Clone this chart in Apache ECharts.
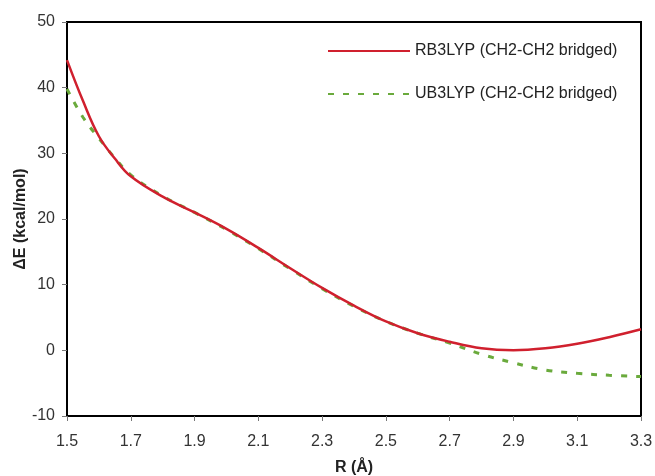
<!DOCTYPE html>
<html><head><meta charset="utf-8">
<script src="https://cdn.jsdelivr.net/npm/echarts@6/dist/echarts.min.js"></script>
<style>html,body{margin:0;padding:0;background:#fff}#c{width:655px;height:476px}</style>
</head><body><div id="c"></div>
<script>
const R = [1.5,1.55,1.6,1.65,1.7,1.8,1.9,2.0,2.1,2.2,2.3,2.4,2.5,2.6,2.7,2.8,2.9,3.0,3.1,3.2,3.3];
const rb3lyp = [44.2,38.0,32.6,29.2,26.5,23.4,21.0,18.5,15.6,12.5,9.5,6.8,4.4,2.6,1.3,0.3,0.0,0.3,1.0,2.0,3.2];
const ub3lyp = [39.8,35.5,32.3,29.3,26.7,23.5,21.0,18.4,15.5,12.4,9.4,6.7,4.4,2.6,1.1,-0.6,-1.9,-3.0,-3.5,-3.8,-4.0];
const seriesNames = ['RB3LYP (CH2-CH2 bridged)','UB3LYP (CH2-CH2 bridged)'];
const xTicks = {min:1.5, max:3.3, interval:0.2};
const yTicks = {min:-10, max:50, interval:10};

const chart = echarts.init(document.getElementById('c'), null, {renderer:'canvas'});
const font = 'Liberation Sans, Arial, sans-serif';
chart.setOption({
  animation:false,
  backgroundColor:'#fff',
  grid:{left:67,right:14,top:22,bottom:60,show:true,borderColor:'#000',borderWidth:2,backgroundColor:'transparent',
        containLabel:false, outerBoundsMode:'none'},
  legend:{
    orient:'vertical', left:322, top:38, itemWidth:82, itemHeight:16, itemGap:27,
    itemStyle:{color:'rgba(0,0,0,0)',borderWidth:0,opacity:0},
    textStyle:{fontFamily:font,fontSize:16,color:'#222'},
    data:seriesNames
  },
  xAxis:{
    type:'value', min:xTicks.min, max:xTicks.max, interval:xTicks.interval,
    name:'R (Å)', nameLocation:'middle', nameGap:44, nameMoveOverlap:false,
    nameTextStyle:{fontFamily:font,fontSize:16,fontWeight:'bold',color:'#222'},
    axisLine:{show:true,onZero:false,lineStyle:{color:'#000',width:2}},
    axisTick:{show:true,length:5,lineStyle:{color:'#777'}},
    axisLabel:{fontFamily:font,fontSize:16,color:'#333',margin:18,showMinLabel:true,showMaxLabel:true,
      formatter:v=>v.toFixed(1)},
    splitLine:{show:false}
  },
  yAxis:{
    type:'value', min:yTicks.min, max:yTicks.max, interval:yTicks.interval,
    name:'ΔE (kcal/mol)', nameLocation:'middle', nameGap:38, nameMoveOverlap:false,
    nameTextStyle:{fontFamily:font,fontSize:16,fontWeight:'bold',color:'#222'},
    axisLine:{show:true,onZero:false,lineStyle:{color:'#000',width:2}},
    axisTick:{show:true,length:5,lineStyle:{color:'#777'}},
    axisLabel:{fontFamily:font,fontSize:16,color:'#333',margin:12},
    splitLine:{show:false}
  },
  series:[
    {name:seriesNames[0], type:'line', smooth:0.4, symbol:'none', z:3,
     data:R.map((r,i)=>[r,rb3lyp[i]]),
     itemStyle:{color:'#d0202e'}, lineStyle:{color:'#d0202e',width:2.5}},
    {name:seriesNames[1], type:'line', smooth:0.4, symbol:'none', z:2,
     data:R.map((r,i)=>[r,ub3lyp[i]]),
     itemStyle:{color:'#6aaa3c'}, lineStyle:{color:'#6aaa3c',width:3,type:[6,9]}}
  ]
});
</script></body></html>
